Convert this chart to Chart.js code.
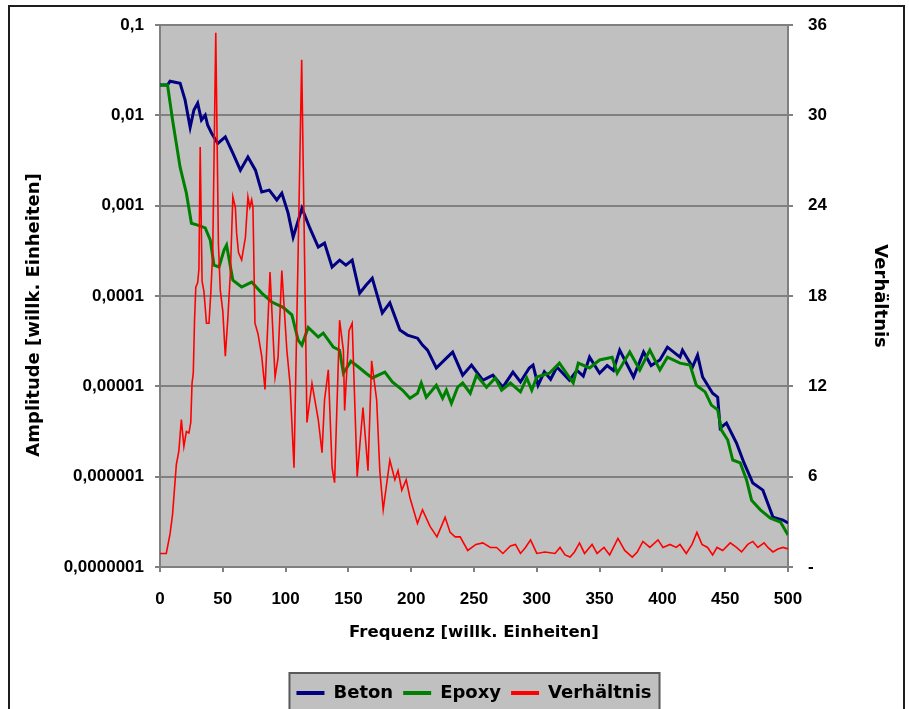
<!DOCTYPE html>
<html>
<head>
<meta charset="utf-8">
<script src="https://cdn.jsdelivr.net/npm/chart.js@4.4.1/dist/chart.umd.min.js"></script>
<style>
html,body{margin:0;padding:0;background:#fff;}
#wrap{width:909px;height:709px;position:relative;overflow:hidden;}
</style>
</head>
<body>
<div id="wrap"><canvas id="c"></canvas></div>
<script>
// ---- data ----
const seriesNames = ['Beton', 'Epoxy', 'Verhältnis'];

const freqBeton = [0,6,8,12,16,20,24,27,30,33,36,38,41,46,52,58,64,70,76,81,87,93,97,102,106,113,119,126,131,137,143,148,153,159,164,169,177,183,191,197,205,209,213,220,228,233,241,248,257,265,273,281,287,294,297,301,306,311,316,326,332,337,342,350,356,361,366,377,385,391,398,404,414,416,424,428,432,440,444,446,451,459,465,472,480,488,496,500];
const beton = [2.17e-2,2.17e-2,2.40e-2,2.34e-2,2.28e-2,1.48e-2,7.4e-3,1.15e-2,1.37e-2,8.9e-3,1.01e-2,7.8e-3,6.4e-3,4.9e-3,5.8e-3,3.83e-3,2.48e-3,3.46e-3,2.48e-3,1.42e-3,1.49e-3,1.16e-3,1.38e-3,8.3e-4,4.5e-4,9.4e-4,5.8e-4,3.49e-4,3.86e-4,2.10e-4,2.5e-4,2.2e-4,2.5e-4,1.08e-4,1.32e-4,1.58e-4,6.5e-5,8.4e-5,4.2e-5,3.7e-5,3.42e-5,2.87e-5,2.52e-5,1.6e-5,2.06e-5,2.4e-5,1.33e-5,1.72e-5,1.17e-5,1.33e-5,9.8e-6,1.44e-5,1.12e-5,1.6e-5,1.72e-5,1.03e-5,1.45e-5,1.2e-5,1.64e-5,1.17e-5,1.5e-5,1.3e-5,2.11e-5,1.4e-5,1.7e-5,1.5e-5,2.52e-5,1.27e-5,2.4e-5,1.7e-5,1.96e-5,2.72e-5,2.11e-5,2.52e-5,1.64e-5,2.22e-5,1.27e-5,8.4e-6,7.6e-6,3.46e-6,3.93e-6,2.36e-6,1.42e-6,8.5e-7,7.1e-7,3.57e-7,3.31e-7,3.07e-7];

const freqEpoxy = [0,6,10,16,21,25,30,36,40,43,47,51,53,58,65,73,81,89,98,105,110,113,118,126,130,138,143,146,152,158,164,169,179,185,193,199,205,208,212,220,225,228,232,237,241,247,252,260,267,272,279,287,292,296,300,310,318,329,333,342,350,360,364,374,382,390,398,404,414,422,427,434,439,444,447,452,456,462,467,471,478,486,494,500];
const epoxy = [2.17e-2,2.17e-2,8.9e-3,2.68e-3,1.38e-3,6.4e-4,6.1e-4,5.7e-4,4.2e-4,2.2e-4,2.1e-4,3.23e-4,3.67e-4,1.5e-4,1.26e-4,1.43e-4,1.08e-4,8.6e-5,7.5e-5,6.2e-5,3.26e-5,2.87e-5,4.5e-5,3.52e-5,3.89e-5,2.72e-5,2.52e-5,1.4e-5,1.9e-5,1.64e-5,1.4e-5,1.24e-5,1.44e-5,1.12e-5,9.1e-6,7.4e-6,8.4e-6,1.09e-5,7.6e-6,1.03e-5,7.4e-6,9.1e-6,6.5e-6,9.8e-6,1.09e-5,8.4e-6,1.33e-5,9.8e-6,1.24e-5,9.1e-6,1.09e-5,8.7e-6,1.24e-5,9.1e-6,1.27e-5,1.4e-5,1.81e-5,1.09e-5,1.81e-5,1.6e-5,1.96e-5,2.1e-5,1.4e-5,2.4e-5,1.52e-5,2.52e-5,1.52e-5,2.11e-5,1.81e-5,1.72e-5,1.03e-5,8.7e-6,6.2e-6,5.5e-6,3.28e-6,2.55e-6,1.53e-6,1.42e-6,9.2e-7,5.5e-7,4.3e-7,3.48e-7,3.15e-7,2.26e-7];

const freqRatio = [0,5,8,10,13,15,17,19,21,23,24.5,25.5,26.5,27.5,28.5,30,31,32,33.5,35,37,39,40.5,42,44.4,46.5,48,50,52,54,56,58,60,61,62.5,65,68,70,71.5,73,74,75.6,78,81,83.6,87.6,91.6,94,97,101,103.5,106.7,110,112.8,114.5,117,121,126,129,131,134,137,139,143,146,147,150.5,153,157,161.6,165.6,168.5,172.5,175,177.7,183,187,189.5,192.5,196,199,205,209,215,220.5,227,231,235,239,245,251.5,257,263,268,273,279,283,287,291,295,300,306.5,314.5,318.5,322.5,326.5,330,334,338,344,348,353.5,358,364.6,370,376,380,384.5,390,396.5,400.5,406,411,414,419,423.6,427.5,431.5,436,440,443.5,448,454,459,463,468,472,476,481,484,488,492,496,500];
const ratio = [0.9,0.9,2.2,3.5,6.8,7.7,9.8,8.0,9.0,8.9,9.6,12.2,12.9,16.4,18.6,18.9,19.8,27.9,19.0,18.3,16.2,16.2,18.3,21.0,35.5,21.5,18.4,17.0,14.0,16.5,19.5,24.6,23.9,22.2,20.9,20.4,21.9,24.6,23.9,24.4,23.9,16.2,15.5,14.0,11.8,19.6,12.6,13.9,19.7,14.4,12.2,6.6,21,33.7,24,9.6,12.2,9.8,7.6,11.1,13.1,6.6,5.6,16.4,14.4,10.4,15.7,16.2,6.0,10.6,6.4,13.7,11.1,6.4,3.8,7.1,5.8,6.4,5.1,5.8,4.6,2.9,3.8,2.7,2.0,3.3,2.3,2.0,2.0,1.1,1.5,1.6,1.3,1.3,0.9,1.4,1.5,0.9,1.3,1.8,0.9,1.0,0.9,1.3,0.8,0.66,1.0,1.6,0.9,1.5,0.9,1.3,0.8,1.9,1.1,0.66,1.0,1.7,1.3,1.8,1.3,1.5,1.3,1.5,0.9,1.5,2.3,1.5,1.3,0.8,1.3,1.1,1.6,1.3,1.0,1.5,1.7,1.3,1.6,1.3,1.0,1.2,1.3,1.2];

// tick values
const freqTicks = [0,50,100,150,200,250,300,350,400,450,500];
const ampTicks = [1e-7,1e-6,1e-5,1e-4,1e-3,1e-2,1e-1];
const ratioTicks = [0,6,12,18,24,30,36];

// ---- styling ----
const TICK_FONT = "'Liberation Sans', Arial, sans-serif";
const TITLE_FONT = "'DejaVu Sans', sans-serif";
const GRID = '#808080';

function pairs(xs, ys) { return xs.map((x, i) => ({x: x, y: ys[i]})); }
function germanDecimal(v) {
  const d = Math.max(0, Math.round(-Math.log10(v)));
  return v.toFixed(d).replace('.', ',');
}

const bgPlugin = {
  id: 'bgPlugin',
  beforeDraw(chart) {
    const {ctx, chartArea: a} = chart;
    ctx.save();
    ctx.fillStyle = '#ffffff';
    ctx.fillRect(0, 0, chart.width, chart.height);
    ctx.fillStyle = '#c0c0c0';
    ctx.fillRect(a.left, a.top, a.right - a.left, a.bottom - a.top);
    ctx.strokeStyle = '#1e1e1e';
    ctx.lineWidth = 2;
    ctx.strokeRect(9, 6, 895, 760);
    const lg = chart.legend;
    if (lg && lg.legendHitBoxes && lg.legendHitBoxes.length) {
      const hb = lg.legendHitBoxes;
      const first = hb[0], last = hb[hb.length - 1];
      const x0 = first.left - 7, x1 = last.left + last.width + 8, y0 = first.top - 11;
      ctx.fillStyle = '#c0c0c0';
      ctx.fillRect(x0, y0, x1 - x0, 80);
      ctx.strokeStyle = '#5a5a5a';
      ctx.lineWidth = 2;
      ctx.strokeRect(x0, y0, x1 - x0, 80);
    }
    ctx.restore();
  }
};

const tickFont = {family: TICK_FONT, weight: 'bold', size: 17};
const yTitleFont = {family: TITLE_FONT, weight: 'bold', size: 18};
const xTitleFont = {family: TITLE_FONT, weight: 'bold', size: 16.5};

new Chart(document.getElementById('c'), {
  type: 'line',
  data: {
    datasets: [
      {label: seriesNames[0], data: pairs(freqBeton, beton), yAxisID: 'y', borderColor: '#000080', backgroundColor: '#000080', borderWidth: 3, pointRadius: 0, tension: 0, order: 3},
      {label: seriesNames[1], data: pairs(freqEpoxy, epoxy), yAxisID: 'y', borderColor: '#008000', backgroundColor: '#008000', borderWidth: 3, pointRadius: 0, tension: 0, order: 2},
      {label: seriesNames[2], data: pairs(freqRatio, ratio), yAxisID: 'y2', borderColor: '#ff0000', backgroundColor: '#ff0000', borderWidth: 1.6, pointRadius: 0, tension: 0, order: 1}
    ]
  },
  options: {
    responsive: true,
    maintainAspectRatio: false,
    animation: false,
    devicePixelRatio: 1,
    layout: {padding: {top: 25, left: 0, right: 0, bottom: -3}},
    plugins: {
      legend: {
        position: 'bottom',
        fullSize: false,
        labels: {
          font: {family: TITLE_FONT, weight: 'bold', size: 18},
          color: '#000',
          boxWidth: 28,
          boxHeight: 4,
          padding: 10,
          generateLabels(chart) {
            return chart.data.datasets.map((ds, i) => ({
              text: ds.label, fillStyle: ds.borderColor, strokeStyle: ds.borderColor,
              lineWidth: 0, hidden: false, datasetIndex: i, fontColor: '#000'
            }));
          }
        }
      },
      tooltip: {enabled: false}
    },
    scales: {
      x: {
        type: 'linear', position: 'bottom', min: 0, max: 500,
        afterBuildTicks(s) { s.ticks = freqTicks.map(v => ({value: v})); },
        ticks: {font: tickFont, color: '#000', padding: 17, maxRotation: 0, autoSkip: false},
        grid: {drawOnChartArea: false, drawTicks: true, tickLength: 5, color: GRID, lineWidth: 2},
        border: {color: GRID, width: 2},
        title: {display: true, text: 'Frequenz [willk. Einheiten]', font: xTitleFont, color: '#000', padding: {top: 0, bottom: 31}},
        afterFit(s) { s.height = 107; }
      },
      y: {
        type: 'logarithmic', position: 'left', min: 1e-7, max: 0.1,
        afterBuildTicks(s) { s.ticks = ampTicks.map(v => ({value: v})); },
        ticks: {font: tickFont, color: '#000', padding: 11, callback: (v) => germanDecimal(v)},
        grid: {color: GRID, lineWidth: 2, drawTicks: true, tickLength: 5},
        border: {color: GRID, width: 2},
        title: {display: true, text: 'Amplitude [willk. Einheiten]      ', font: yTitleFont, color: '#000', padding: {top: 24, bottom: 0}},
        afterFit(s) { s.width = 160; }
      },
      y2: {
        type: 'linear', position: 'right', min: 0, max: 36,
        afterBuildTicks(s) { s.ticks = ratioTicks.map(v => ({value: v})); },
        ticks: {font: tickFont, color: '#000', padding: 15, callback: (v) => (v === 0 ? '-' : String(v))},
        grid: {drawOnChartArea: false, drawTicks: true, tickLength: 5, color: GRID, lineWidth: 2},
        border: {color: GRID, width: 2},
        title: {display: true, text: 'Verhältnis', font: yTitleFont, color: '#000', padding: {top: 19, bottom: 0}},
        afterFit(s) { s.width = 121; }
      }
    }
  },
  plugins: [bgPlugin]
});
</script>
</body>
</html>
